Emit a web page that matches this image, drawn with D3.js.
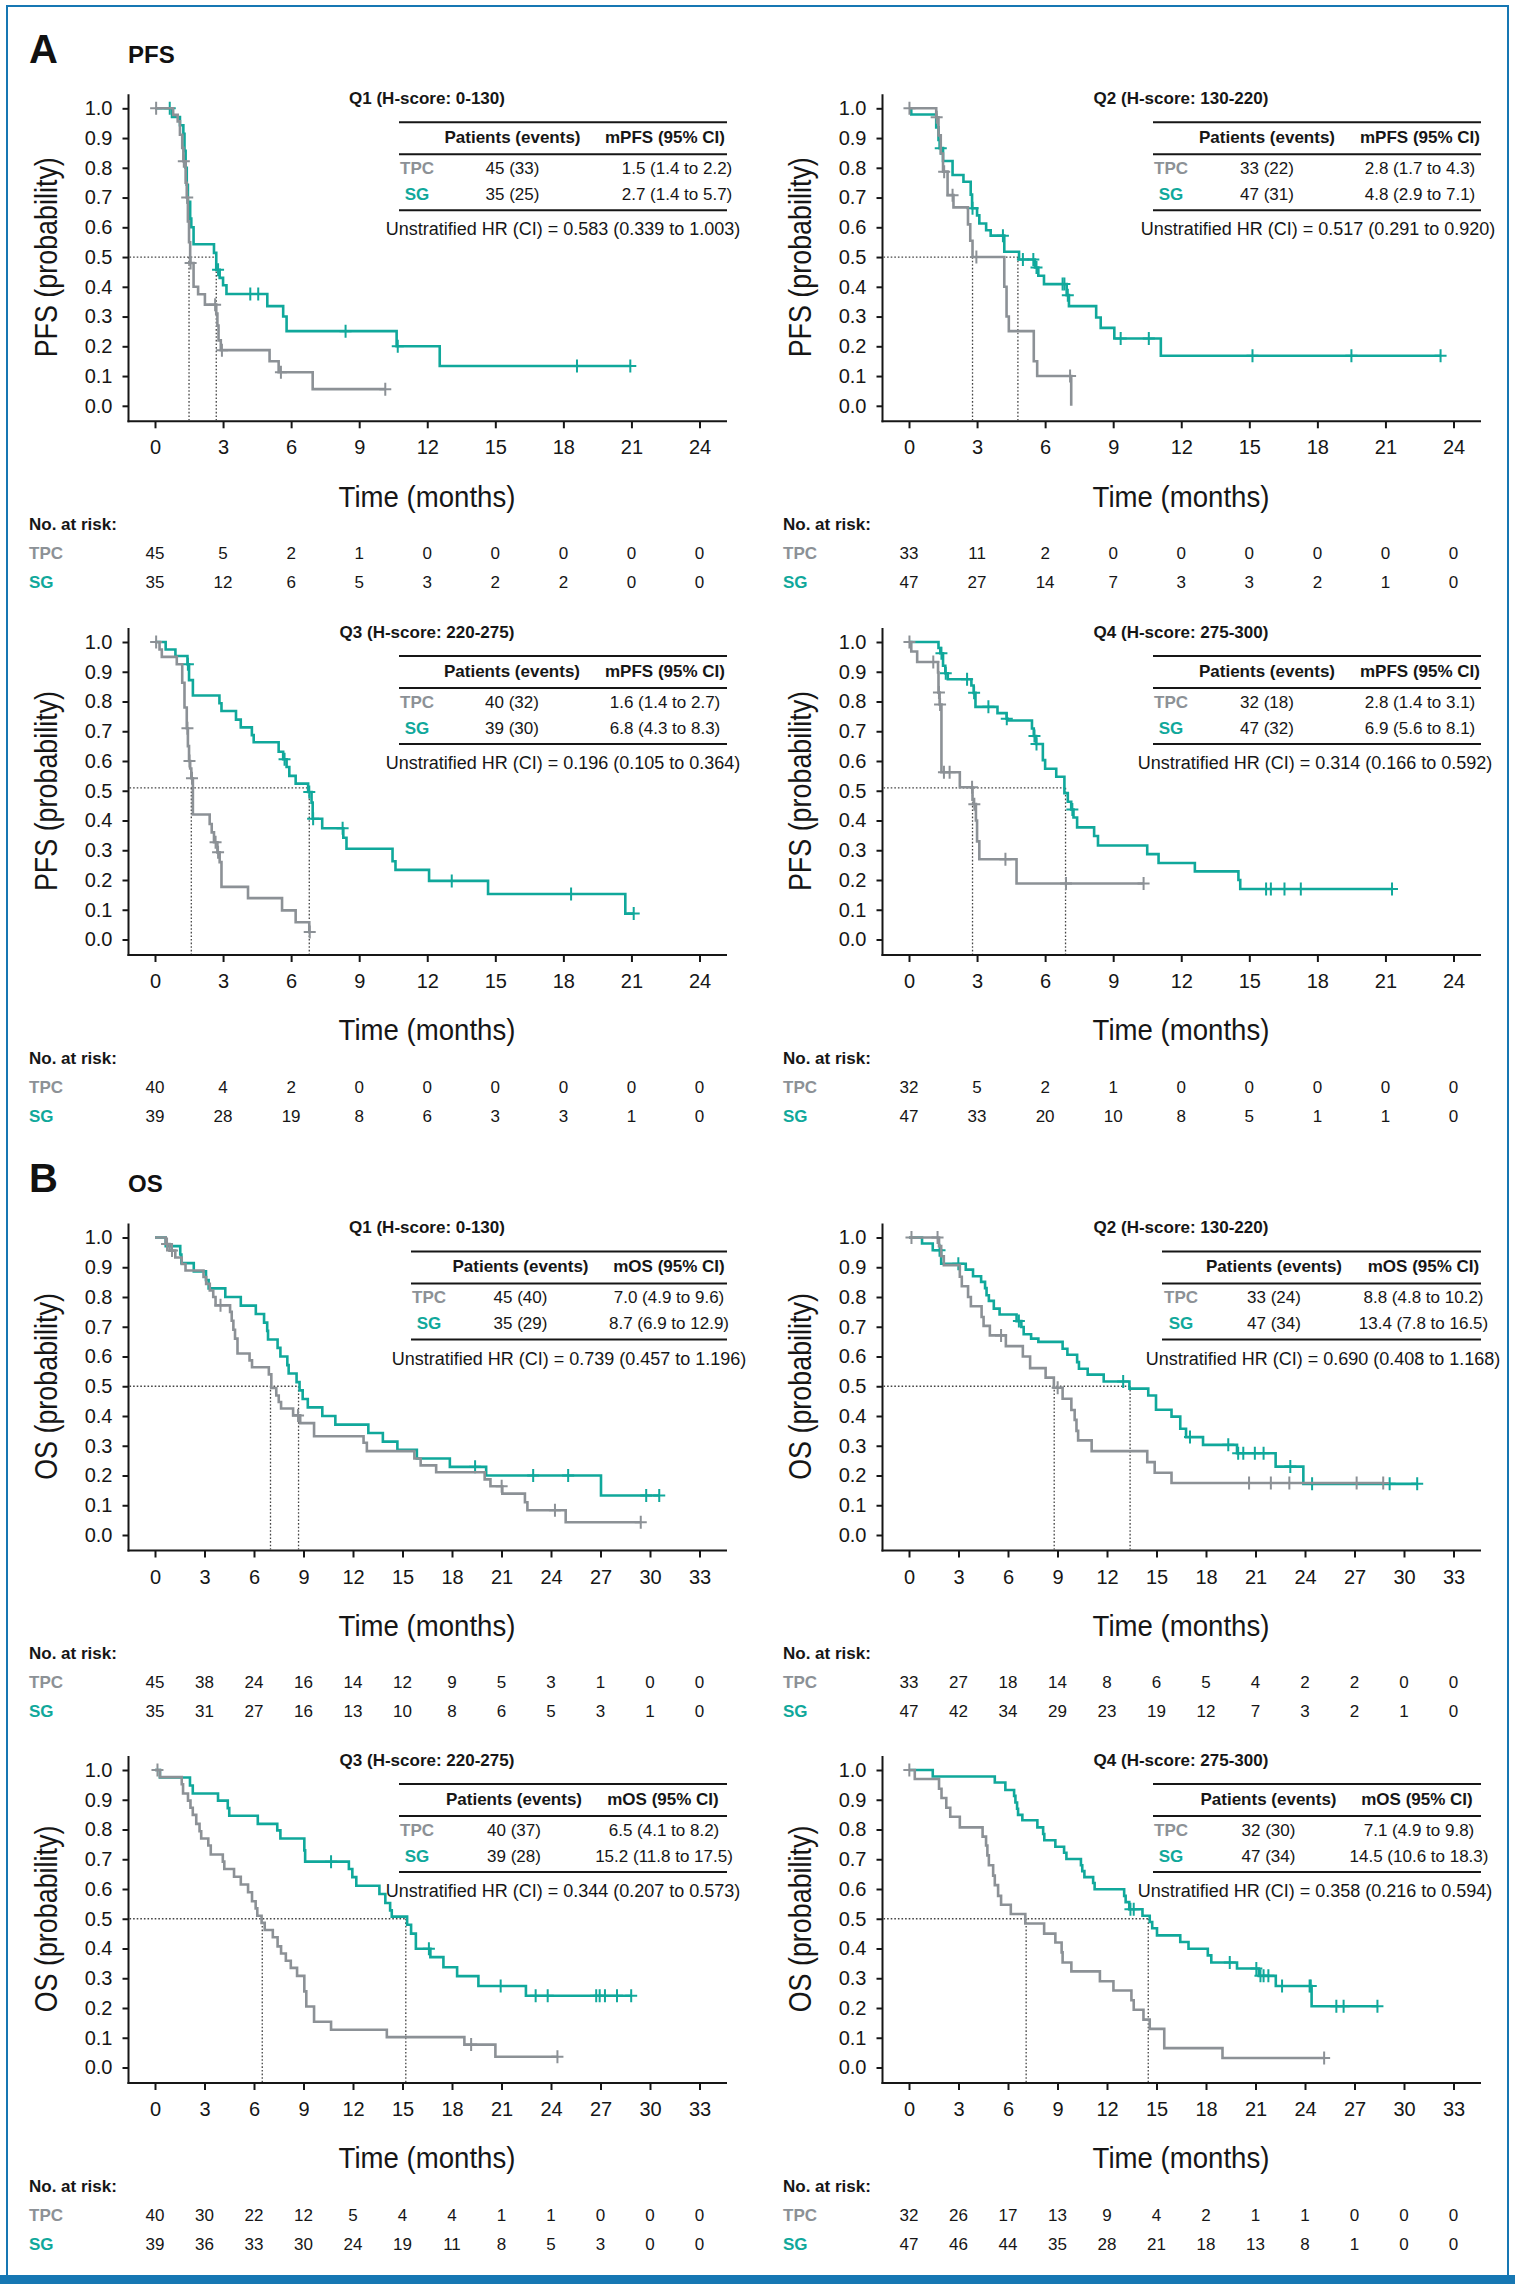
<!DOCTYPE html>
<html><head><meta charset="utf-8">
<script src="https://cdn.jsdelivr.net/npm/d3@7"></script>
<style>
body{margin:0;background:#fff}
svg{display:block}
</style>
</head><body>
<svg id="chart" width="1515" height="2284"></svg>
<script>
// ---------------- DATA ----------------
const groups = ["TPC", "SG"];
const probTicks = [0, 0.1, 0.2, 0.3, 0.4, 0.5, 0.6, 0.7, 0.8, 0.9, 1.0];
const pfsTimeTicks = [0, 3, 6, 9, 12, 15, 18, 21, 24];
const osTimeTicks = [0, 3, 6, 9, 12, 15, 18, 21, 24, 27, 30, 33];
const quartileTitles = ["Q1 (H-score: 0-130)", "Q2 (H-score: 130-220)", "Q3 (H-score: 220-275)", "Q4 (H-score: 275-300)"];

// Kaplan-Meier steps: [time (months), survival after the drop]; censor times
const pfsQ1Tpc = [[0,1],[0.8,0.978],[1.0,0.956],[1.1,0.911],[1.2,0.867],[1.25,0.822],[1.35,0.75],[1.4,0.70],[1.45,0.62],[1.5,0.55],[1.55,0.48],[1.7,0.40],[1.9,0.375],[2.2,0.34],[2.7,0.31],[2.75,0.27],[2.8,0.22],[2.9,0.187],[5.05,0.15],[5.45,0.113],[6.95,0.056]];
const pfsQ1TpcCens = [0.05, 1.27, 1.42, 1.57, 2.65, 2.95, 5.55, 10.15];
const pfsQ1Sg = [[0,1],[0.75,0.971],[1.1,0.943],[1.25,0.914],[1.3,0.857],[1.35,0.80],[1.4,0.743],[1.45,0.686],[1.55,0.629],[1.6,0.60],[1.7,0.543],[2.6,0.514],[2.7,0.457],[2.85,0.43],[3.0,0.405],[3.15,0.376],[4.95,0.335],[5.65,0.30],[5.8,0.251],[10.65,0.20],[12.55,0.134]];
const pfsQ1SgCens = [0.65, 2.78, 4.2, 4.55, 8.4, 10.7, 18.6, 20.95];

const pfsQ2Tpc = [[0,1],[1.2,0.97],[1.3,0.909],[1.4,0.848],[1.5,0.787],[1.7,0.708],[1.96,0.667],[2.6,0.61],[2.7,0.555],[2.8,0.50],[4.2,0.40],[4.3,0.30],[4.4,0.251],[5.5,0.15],[5.65,0.10],[7.15,0.0]];
const pfsQ2TpcCens = [0.02, 1.22, 1.55, 1.92, 2.97, 7.1];
const pfsQ2Sg = [[0,1],[0.1,0.979],[1.2,0.936],[1.3,0.894],[1.35,0.866],[1.5,0.823],[1.92,0.776],[2.4,0.753],[2.72,0.71],[2.78,0.664],[3.0,0.64],[3.1,0.613],[3.4,0.59],[3.6,0.572],[4.2,0.518],[4.85,0.492],[5.55,0.465],[5.7,0.437],[5.95,0.409],[6.95,0.372],[7.05,0.335],[8.25,0.297],[8.45,0.262],[9.05,0.226],[11.1,0.168]];
const pfsQ2SgCens = [1.4, 2.8, 4.14, 5.02, 5.48, 5.62, 6.77, 6.85, 7.0, 9.33, 10.57, 15.14, 19.5, 23.43];

const pfsQ3Tpc = [[0,1],[0.2,0.975],[0.3,0.95],[0.96,0.925],[1.2,0.863],[1.3,0.78],[1.4,0.71],[1.45,0.65],[1.5,0.60],[1.55,0.575],[1.6,0.542],[1.67,0.42],[2.41,0.388],[2.5,0.36],[2.6,0.327],[2.75,0.293],[2.85,0.26],[2.93,0.177],[4.1,0.139],[5.6,0.098],[6.2,0.058],[6.8,0.025]];
const pfsQ3TpcCens = [0.05, 1.43, 1.52, 1.63, 2.67, 2.78, 6.82];
const pfsQ3Sg = [[0,1],[0.47,0.975],[0.9,0.953],[1.43,0.925],[1.5,0.872],[1.67,0.82],[2.84,0.794],[2.93,0.768],[3.57,0.739],[3.78,0.713],[4.27,0.687],[4.35,0.663],[5.45,0.631],[5.65,0.606],[5.8,0.58],[5.92,0.55],[6.2,0.524],[6.75,0.496],[6.9,0.46],[6.95,0.406],[7.37,0.374],[8.3,0.342],[8.44,0.305],[10.47,0.263],[10.6,0.234],[12.08,0.197],[14.68,0.153],[20.73,0.087]];
const pfsQ3SgCens = [1.45, 5.71, 6.8, 6.97, 8.27, 13.08, 18.34, 21.1];

const pfsQ4Tpc = [[0,1],[0.1,0.968],[0.36,0.933],[1.28,0.898],[1.3,0.83],[1.35,0.79],[1.43,0.562],[2.24,0.512],[2.8,0.47],[2.85,0.455],[2.95,0.40],[3.0,0.33],[3.1,0.27],[4.74,0.188]];
const pfsQ4TpcCens = [0.02, 1.07, 1.32, 1.37, 1.54, 1.79, 2.78, 2.88, 4.25, 6.92, 10.34];
const pfsQ4Sg = [[0,1],[1.3,0.98],[1.38,0.962],[1.5,0.92],[1.6,0.895],[1.71,0.875],[2.75,0.854],[2.85,0.829],[2.93,0.782],[3.9,0.761],[4.3,0.742],[4.35,0.736],[5.42,0.709],[5.5,0.684],[5.6,0.657],[5.9,0.603],[6.0,0.574],[6.49,0.547],[6.85,0.492],[7.0,0.463],[7.15,0.437],[7.25,0.41],[7.41,0.377],[8.16,0.348],[8.33,0.316],[10.5,0.287],[11.0,0.257],[12.6,0.229],[14.52,0.20],[14.6,0.17]];
const pfsQ4SgCens = [1.43, 1.62, 2.56, 2.87, 3.5, 4.31, 5.53, 5.62, 7.2, 15.74, 15.95, 16.55, 17.27, 21.29];

const osQ1Tpc = [[0,1],[0.65,0.978],[0.88,0.956],[1.23,0.933],[1.62,0.911],[1.85,0.889],[2.94,0.867],[3.1,0.844],[3.32,0.822],[3.53,0.80],[3.67,0.772],[4.55,0.75],[4.65,0.72],[4.75,0.69],[4.85,0.66],[5.0,0.61],[5.73,0.587],[5.88,0.564],[6.9,0.54],[7.05,0.494],[7.35,0.469],[7.5,0.447],[7.64,0.425],[8.37,0.402],[8.8,0.376],[9.64,0.332],[12.64,0.31],[12.84,0.282],[15.72,0.257],[16.1,0.234],[17.04,0.211],[19.98,0.187],[20.33,0.164],[21.05,0.139],[22.42,0.11],[22.57,0.083],[24.89,0.043]];
const osQ1TpcCens = [0.73, 1.03, 3.97, 8.67, 21.01, 24.24, 29.44];
const osQ1Sg = [[0,1],[0.65,0.971],[1.53,0.943],[1.6,0.914],[2.35,0.886],[3.09,0.857],[3.25,0.829],[4.26,0.80],[5.2,0.771],[6.11,0.743],[6.61,0.714],[6.8,0.686],[6.85,0.657],[7.43,0.629],[7.6,0.60],[8.02,0.571],[8.1,0.543],[8.58,0.514],[8.76,0.486],[8.95,0.457],[9.26,0.429],[10.14,0.40],[10.93,0.371],[12.93,0.343],[13.81,0.314],[14.69,0.286],[15.87,0.257],[17.87,0.229],[20.07,0.20],[27.03,0.133]];
const osQ1SgCens = [19.4, 22.92, 25.04, 29.77, 30.56];

const osQ2Tpc = [[0,1],[1.82,0.971],[1.95,0.937],[2.11,0.907],[3.08,0.868],[3.2,0.836],[3.58,0.80],[3.75,0.769],[4.4,0.733],[4.52,0.703],[4.9,0.671],[5.87,0.635],[6.9,0.60],[7.34,0.561],[8.28,0.529],[8.78,0.495],[9.31,0.458],[9.84,0.42],[10.04,0.387],[10.15,0.35],[10.25,0.318],[11.07,0.282],[14.44,0.245],[14.89,0.209],[15.91,0.175]];
const osQ2TpcCens = [0.15, 1.73, 5.58, 9.01, 20.61, 21.93, 23.05, 27.13, 28.74];
const osQ2Sg = [[0,1],[0.79,0.98],[1.44,0.957],[1.95,0.912],[3.44,0.892],[3.88,0.87],[4.37,0.851],[4.61,0.83],[4.7,0.806],[4.84,0.787],[5.14,0.761],[5.49,0.741],[6.52,0.719],[6.81,0.699],[6.95,0.675],[7.4,0.66],[7.84,0.649],[9.31,0.626],[9.6,0.606],[10.19,0.581],[10.3,0.559],[10.83,0.539],[11.8,0.516],[13.36,0.492],[14.5,0.469],[14.97,0.421],[15.91,0.398],[16.44,0.357],[16.79,0.329],[17.82,0.303],[19.88,0.275],[22.22,0.23],[23.9,0.172]];
const osQ2SgCens = [1.85, 2.99, 6.66, 12.98, 17.03, 19.35, 19.95, 20.26, 20.96, 21.49, 23.11, 24.43, 29.13, 30.8];

const osQ3Tpc = [[0,1],[0.3,0.976],[1.62,0.952],[1.7,0.921],[2.0,0.897],[2.15,0.873],[2.29,0.849],[2.5,0.819],[2.7,0.794],[2.8,0.77],[3.23,0.746],[3.38,0.716],[4.11,0.692],[4.2,0.667],[4.79,0.641],[5.2,0.615],[5.64,0.589],[5.88,0.559],[6.1,0.535],[6.2,0.51],[6.46,0.486],[6.65,0.462],[7.14,0.438],[7.43,0.407],[7.64,0.383],[7.93,0.359],[8.23,0.335],[8.61,0.308],[9.05,0.256],[9.17,0.205],[9.64,0.154],[10.67,0.127],[14.05,0.102],[18.75,0.077],[20.63,0.036]];
const osQ3TpcCens = [0.15, 19.16, 24.39];
const osQ3Sg = [[0,1],[0.3,0.975],[2.12,0.948],[2.29,0.921],[3.82,0.897],[4.41,0.872],[4.5,0.846],[6.23,0.819],[7.41,0.797],[7.6,0.77],[9.05,0.73],[9.1,0.692],[11.75,0.667],[11.96,0.64],[12.2,0.611],[13.6,0.583],[13.96,0.553],[14.25,0.528],[14.35,0.507],[15.28,0.48],[15.52,0.45],[15.81,0.399],[16.69,0.371],[17.48,0.337],[18.31,0.307],[19.6,0.274],[22.48,0.241]];
const osQ3SgCens = [10.67, 16.6, 20.95, 23.07, 23.8, 26.74, 26.95, 27.27, 28.0, 28.86];

const osQ4Tpc = [[0,1],[0.35,0.97],[1.82,0.937],[1.97,0.906],[2.26,0.873],[2.5,0.843],[3.08,0.807],[4.46,0.776],[4.67,0.746],[4.75,0.713],[4.84,0.68],[5.1,0.645],[5.2,0.613],[5.4,0.577],[5.58,0.547],[6.17,0.516],[7.05,0.484],[8.19,0.45],[8.87,0.42],[9.25,0.387],[9.31,0.353],[9.84,0.323],[11.57,0.29],[12.39,0.259],[13.48,0.226],[13.62,0.194],[14.21,0.161],[14.59,0.13],[15.47,0.065],[19.0,0.032]];
const osQ4TpcCens = [0.02, 25.16];
const osQ4Sg = [[0,1],[1.44,0.978],[5.2,0.958],[5.84,0.933],[6.37,0.913],[6.45,0.891],[6.55,0.87],[6.61,0.849],[6.87,0.831],[7.78,0.807],[8.13,0.785],[8.2,0.764],[8.87,0.742],[9.4,0.722],[9.54,0.701],[10.42,0.68],[10.5,0.66],[10.63,0.64],[11.16,0.62],[11.25,0.599],[13.04,0.577],[13.13,0.556],[13.35,0.532],[14.15,0.51],[14.59,0.489],[14.74,0.468],[15.03,0.444],[16.44,0.422],[16.94,0.399],[18.11,0.377],[18.32,0.353],[19.88,0.333],[21.2,0.308],[22.23,0.274],[24.4,0.206]];
const osQ4SgCens = [13.42, 13.62, 19.44, 21.05, 21.3, 21.49, 21.78, 22.61, 24.28, 24.35, 25.9, 26.34, 28.39];

// Number at risk
const pfsQ1RiskTpc = [45,5,2,1,0,0,0,0,0];
const pfsQ1RiskSg  = [35,12,6,5,3,2,2,0,0];
const pfsQ2RiskTpc = [33,11,2,0,0,0,0,0,0];
const pfsQ2RiskSg  = [47,27,14,7,3,3,2,1,0];
const pfsQ3RiskTpc = [40,4,2,0,0,0,0,0,0];
const pfsQ3RiskSg  = [39,28,19,8,6,3,3,1,0];
const pfsQ4RiskTpc = [32,5,2,1,0,0,0,0,0];
const pfsQ4RiskSg  = [47,33,20,10,8,5,1,1,0];
const osQ1RiskTpc = [45,38,24,16,14,12,9,5,3,1,0,0];
const osQ1RiskSg  = [35,31,27,16,13,10,8,6,5,3,1,0];
const osQ2RiskTpc = [33,27,18,14,8,6,5,4,2,2,0,0];
const osQ2RiskSg  = [47,42,34,29,23,19,12,7,3,2,1,0];
const osQ3RiskTpc = [40,30,22,12,5,4,4,1,1,0,0,0];
const osQ3RiskSg  = [39,36,33,30,24,19,11,8,5,3,0,0];
const osQ4RiskTpc = [32,26,17,13,9,4,2,1,1,0,0,0];
const osQ4RiskSg  = [47,46,44,35,28,21,18,13,8,1,0,0];

// Tables: [patients (events), median (95% CI)] per group; HR; medians
const pfsQ1Table = [["45 (33)","1.5 (1.4 to 2.2)"],["35 (25)","2.7 (1.4 to 5.7)"]];
const pfsQ2Table = [["33 (22)","2.8 (1.7 to 4.3)"],["47 (31)","4.8 (2.9 to 7.1)"]];
const pfsQ3Table = [["40 (32)","1.6 (1.4 to 2.7)"],["39 (30)","6.8 (4.3 to 8.3)"]];
const pfsQ4Table = [["32 (18)","2.8 (1.4 to 3.1)"],["47 (32)","6.9 (5.6 to 8.1)"]];
const osQ1Table = [["45 (40)","7.0 (4.9 to 9.6)"],["35 (29)","8.7 (6.9 to 12.9)"]];
const osQ2Table = [["33 (24)","8.8 (4.8 to 10.2)"],["47 (34)","13.4 (7.8 to 16.5)"]];
const osQ3Table = [["40 (37)","6.5 (4.1 to 8.2)"],["39 (28)","15.2 (11.8 to 17.5)"]];
const osQ4Table = [["32 (30)","7.1 (4.9 to 9.8)"],["47 (34)","14.5 (10.6 to 18.3)"]];
const hrValues = ["0.583 (0.339 to 1.003)","0.517 (0.291 to 0.920)","0.196 (0.105 to 0.364)","0.314 (0.166 to 0.592)",
                  "0.739 (0.457 to 1.196)","0.690 (0.408 to 1.168)","0.344 (0.207 to 0.573)","0.358 (0.216 to 0.594)"];
const medianTimes = [[1.5,2.7],[2.8,4.8],[1.6,6.8],[2.8,6.9],[7.0,8.7],[8.8,13.4],[6.5,15.2],[7.1,14.5]];
const medianLevel = [0.5,0.5,0.51,0.51,0.5,0.5,0.5,0.5];

// ---------------- STYLE / LAYOUT ----------------
const FONT = '"Liberation Sans", Arial, Helvetica, sans-serif';
const TEAL = "#10a89b", GREY = "#8c9196", BLUE = "#1677b3", INK = "#161616";
const rowY0 = [108.3, 642, 1237.5, 1770];
const colDX = [0, 754];
const tblLayout = [
  {tblL:399, labX:417, patX:512.5, hdrX:665, valX:677, hrX:563},
  {tblL:399, labX:417, patX:513, hdrX:666, valX:666, hrX:564},
  {tblL:399, labX:417, patX:512, hdrX:665, valX:665, hrX:563},
  {tblL:399, labX:417, patX:513, hdrX:666, valX:666, hrX:561},
  {tblL:411, labX:429, patX:520.5, hdrX:669, valX:669, hrX:569},
  {tblL:408, labX:427, patX:520, hdrX:669.5, valX:669.5, hrX:569},
  {tblL:399, labX:417, patX:514, hdrX:663, valX:664, hrX:563},
  {tblL:399, labX:417, patX:514.5, hdrX:663, valX:665, hrX:561}
];

const panels = [
  {sec:"PFS", q:0, row:0, col:0, tpc:pfsQ1Tpc, tpcC:pfsQ1TpcCens, sg:pfsQ1Sg, sgC:pfsQ1SgCens, risk:[pfsQ1RiskTpc,pfsQ1RiskSg], tbl:pfsQ1Table},
  {sec:"PFS", q:1, row:0, col:1, tpc:pfsQ2Tpc, tpcC:pfsQ2TpcCens, sg:pfsQ2Sg, sgC:pfsQ2SgCens, risk:[pfsQ2RiskTpc,pfsQ2RiskSg], tbl:pfsQ2Table},
  {sec:"PFS", q:2, row:1, col:0, tpc:pfsQ3Tpc, tpcC:pfsQ3TpcCens, sg:pfsQ3Sg, sgC:pfsQ3SgCens, risk:[pfsQ3RiskTpc,pfsQ3RiskSg], tbl:pfsQ3Table},
  {sec:"PFS", q:3, row:1, col:1, tpc:pfsQ4Tpc, tpcC:pfsQ4TpcCens, sg:pfsQ4Sg, sgC:pfsQ4SgCens, risk:[pfsQ4RiskTpc,pfsQ4RiskSg], tbl:pfsQ4Table},
  {sec:"OS", q:0, row:2, col:0, tpc:osQ1Tpc, tpcC:osQ1TpcCens, sg:osQ1Sg, sgC:osQ1SgCens, risk:[osQ1RiskTpc,osQ1RiskSg], tbl:osQ1Table},
  {sec:"OS", q:1, row:2, col:1, tpc:osQ2Tpc, tpcC:osQ2TpcCens, sg:osQ2Sg, sgC:osQ2SgCens, risk:[osQ2RiskTpc,osQ2RiskSg], tbl:osQ2Table},
  {sec:"OS", q:2, row:3, col:0, tpc:osQ3Tpc, tpcC:osQ3TpcCens, sg:osQ3Sg, sgC:osQ3SgCens, risk:[osQ3RiskTpc,osQ3RiskSg], tbl:osQ3Table},
  {sec:"OS", q:3, row:3, col:1, tpc:osQ4Tpc, tpcC:osQ4TpcCens, sg:osQ4Sg, sgC:osQ4SgCens, risk:[osQ4RiskTpc,osQ4RiskSg], tbl:osQ4Table}
];

// ---------------- DRAW ----------------
const svg = d3.select("#chart");
svg.append("rect").attr("width",1515).attr("height",2284).attr("fill","#fff");

function txt(g, x, y, s, o = {}) {
  return g.append("text").attr("x", x).attr("y", y).text(s)
    .attr("font-family", FONT).attr("font-size", o.size || 17)
    .attr("font-weight", o.weight || "normal")
    .attr("text-anchor", o.anchor || "start")
    .attr("dominant-baseline", o.baseline || "central")
    .attr("fill", o.fill || INK);
}

// section labels
[["A","PFS",rowY0[0]],["B","OS",rowY0[2]]].forEach(([L, name, Y0]) => {
  txt(svg, 29, Y0 - 45.5, L, {size:40, weight:"bold", baseline:"alphabetic", fill:"#111"});
  txt(svg, 128, Y0 - 45.5, name, {size:24, weight:"bold", baseline:"alphabetic", fill:"#111"});
});

const bisect = d3.bisector(d => d[0]).right;
function survAt(steps, t) { return steps[Math.max(0, bisect(steps, t) - 1)][1]; }

panels.forEach((p, i) => {
  const dx = colDX[p.col], Y0 = rowY0[p.row];
  const L = tblLayout[i];
  const ticks = p.sec === "PFS" ? pfsTimeTicks : osTimeTicks;
  const g = svg.append("g");
  const x = d3.scaleLinear().domain([0, d3.max(ticks)]).range([155 + dx, 699.5 + dx]);
  const y = d3.scaleLinear().domain([0, 1]).range([Y0 + 297.5, Y0]);
  const axisY = Y0 + 313, axisX = 128.5 + dx;

  // axes
  g.append("g").attr("transform", `translate(${axisX},0)`)
    .call(d3.axisLeft(y).tickValues(probTicks).tickFormat(d3.format(".1f")).tickSize(6).tickPadding(10).tickSizeOuter(0))
    .call(a => a.select(".domain").remove())
    .call(a => a.attr("font-family", FONT).attr("font-size", 20))
    .call(a => a.selectAll("text").attr("fill", INK))
    .call(a => a.selectAll("line").attr("stroke", INK).attr("stroke-width", 2));
  g.append("g").attr("transform", `translate(0,${axisY})`)
    .call(d3.axisBottom(x).tickValues(ticks).tickFormat(d3.format("d")).tickSize(7).tickPadding(12).tickSizeOuter(0))
    .call(a => a.select(".domain").remove())
    .call(a => a.attr("font-family", FONT).attr("font-size", 20))
    .call(a => a.selectAll("text").attr("fill", INK))
    .call(a => a.selectAll("line").attr("stroke", INK).attr("stroke-width", 2));
  g.append("line").attr("x1", axisX).attr("x2", axisX).attr("y1", Y0 - 14).attr("y2", axisY + 1)
    .attr("stroke", INK).attr("stroke-width", 2);
  g.append("line").attr("x1", axisX - 1).attr("x2", 727 + dx).attr("y1", axisY).attr("y2", axisY)
    .attr("stroke", INK).attr("stroke-width", 2);

  // axis titles (condensed, taller type as in the reference)
  txt(g, 0, 0, `${p.sec} (probability)`, {size:32, anchor:"middle"})
    .attr("transform", `translate(${46 + dx},${Y0 + 149}) rotate(-90) scale(0.84,1)`);
  txt(g, 0, 0, "Time (months)", {size:30, anchor:"middle"})
    .attr("transform", `translate(${427 + dx},${Y0 + 388}) scale(0.92,1)`);

  // median dotted lines
  const [m1, m2] = medianTimes[i], mY = medianLevel[i];
  const dl = (x1, y1, x2, y2) => g.append("line").attr("x1", x1).attr("y1", y1).attr("x2", x2).attr("y2", y2)
    .attr("stroke", "#444").attr("stroke-width", 1.3).attr("stroke-dasharray", "1.6,2");
  dl(axisX + 1, y(mY), x(Math.max(m1, m2)), y(mY));
  dl(x(m1), y(mY), x(m1), axisY - 1);
  dl(x(m2), y(mY), x(m2), axisY - 1);

  // curves: SG first, TPC on top
  const line = d3.line().x(d => x(d[0])).y(d => y(d[1])).curve(d3.curveStepAfter);
  [[p.sg, p.sgC, TEAL], [p.tpc, p.tpcC, GREY]].forEach(([steps, cens, col]) => {
    const end = Math.max(steps[steps.length - 1][0], d3.max(cens));
    const pts = steps.concat([[end, steps[steps.length - 1][1]]]);
    g.append("path").attr("d", line(pts)).attr("fill", "none").attr("stroke", col)
      .attr("stroke-width", 2.6).attr("stroke-linejoin", "miter");
    g.selectAll(null).data(cens).join("path")
      .attr("transform", t => `translate(${x(t)},${y(survAt(steps, t))})`)
      .attr("d", "M-6,0H6M0,-6.5V6.5").attr("stroke", col).attr("stroke-width", 2).attr("fill", "none");
  });

  // title
  txt(g, 427 + dx, Y0 - 10, quartileTitles[p.q], {size:17, weight:"bold", anchor:"middle"});

  // table
  [14, 46, 102].forEach(dy => g.append("line").attr("x1", L.tblL + dx).attr("x2", 727 + dx)
    .attr("y1", Y0 + dy).attr("y2", Y0 + dy).attr("stroke", INK).attr("stroke-width", 2));
  txt(g, L.patX + dx, Y0 + 29, "Patients (events)", {size:17, weight:"bold", anchor:"middle"});
  txt(g, L.hdrX + dx, Y0 + 29, p.sec === "PFS" ? "mPFS (95% CI)" : "mOS (95% CI)", {size:17, weight:"bold", anchor:"middle"});
  [[60, 0, GREY], [86, 1, TEAL]].forEach(([dy, k, col]) => {
    txt(g, L.labX + dx, Y0 + dy, groups[k], {size:17, weight:"bold", anchor:"middle", fill:col});
    txt(g, L.patX + dx, Y0 + dy, p.tbl[k][0], {size:17, anchor:"middle"});
    txt(g, L.valX + dx, Y0 + dy, p.tbl[k][1], {size:17, anchor:"middle"});
  });
  txt(g, L.hrX + dx, Y0 + 121, `Unstratified HR (CI) = ${hrValues[i]}`, {size:18, anchor:"middle"});

  // numbers at risk
  txt(g, 29 + dx, Y0 + 416, "No. at risk:", {size:17, weight:"bold"});
  [[445, 0, GREY], [474, 1, TEAL]].forEach(([dy, k, col]) => {
    txt(g, 29 + dx, Y0 + dy, groups[k], {size:17, weight:"bold", fill:col});
    g.selectAll(null).data(p.risk[k]).join("text")
      .attr("x", (d, j) => x(ticks[j])).attr("y", Y0 + dy).text(d => d)
      .attr("font-family", FONT).attr("font-size", 17).attr("text-anchor", "middle")
      .attr("dominant-baseline", "central").attr("fill", INK);
  });
});

// frame
svg.append("rect").attr("x", 7).attr("y", 6).attr("width", 1501).attr("height", 2272)
  .attr("fill", "none").attr("stroke", BLUE).attr("stroke-width", 2);
svg.append("rect").attr("x", 0).attr("y", 2275).attr("width", 1515).attr("height", 9).attr("fill", BLUE);
</script>
</body></html>
